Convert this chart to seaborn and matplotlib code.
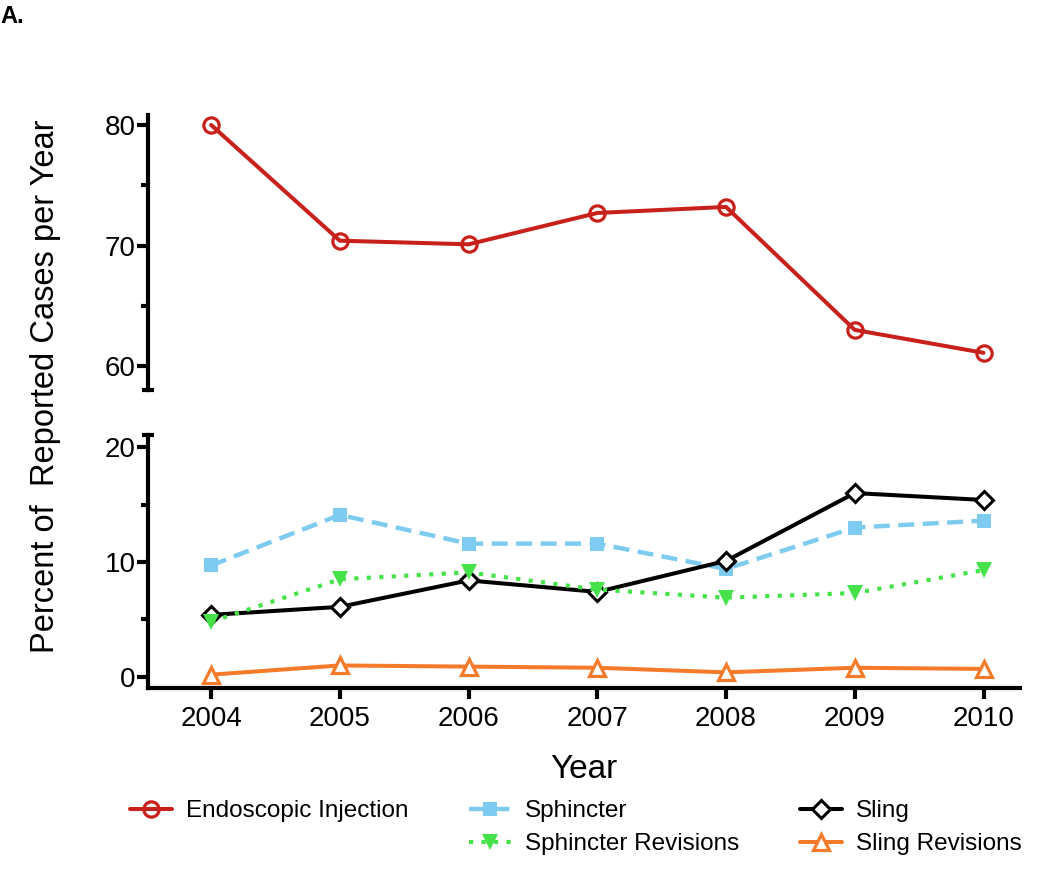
import matplotlib
matplotlib.use("Agg")
import matplotlib.pyplot as plt
from matplotlib.ticker import MultipleLocator
import seaborn as sns

years = [2004, 2005, 2006, 2007, 2008, 2009, 2010]
endoscopic = [80.0, 70.4, 70.1, 72.7, 73.2, 63.0, 61.1]
sphincter = [9.7, 14.1, 11.6, 11.6, 9.4, 13.0, 13.6]
sling = [5.4, 6.1, 8.4, 7.4, 10.1, 16.0, 15.4]
sphincter_rev = [4.8, 8.5, 9.1, 7.6, 6.9, 7.3, 9.3]
sling_rev = [0.2, 1.0, 0.9, 0.8, 0.4, 0.8, 0.7]

RED = "#c8201b"
BLUE = "#7ecbf0"
BLACK = "#000000"
GREEN = "#45e24a"
ORANGE = "#f57b2b"

sns.set_style("ticks")
plt.rcParams["font.family"] = ["Liberation Sans", "DejaVu Sans"]
plt.rcParams.update({
    "text.color": "black",
    "axes.labelcolor": "black",
    "axes.edgecolor": "black",
    "xtick.color": "black",
    "ytick.color": "black",
})

fig = plt.figure(figsize=(10.5, 8.69), dpi=100)
ax_top = fig.add_axes([0.141, 0.551, 0.83, 0.317])
ax_bot = fig.add_axes([0.141, 0.2083, 0.83, 0.2911])

LW = 2.9
SPINE = 3.0

sns.lineplot(x=years, y=endoscopic, ax=ax_top, color=RED, linewidth=LW,
             marker="o", markersize=11, markerfacecolor="none",
             markeredgecolor=RED, markeredgewidth=2.3,
             label="Endoscopic Injection")

sns.lineplot(x=years, y=sphincter, ax=ax_bot, color=BLUE, linewidth=3.2,
             linestyle=(0, (3.6, 1.9)), marker="s", markersize=10,
             markerfacecolor=BLUE, markeredgecolor=BLUE, markeredgewidth=0,
             label="Sphincter")
sns.lineplot(x=years, y=sling, ax=ax_bot, color=BLACK, linewidth=LW,
             marker="D", markersize=9, markerfacecolor="white",
             markeredgecolor=BLACK, markeredgewidth=2.2,
             label="Sling")
sns.lineplot(x=years, y=sphincter_rev, ax=ax_bot, color=GREEN, linewidth=3.0,
             linestyle=(0, (1.0, 2.0)), marker="v", markersize=11.5,
             markerfacecolor=GREEN, markeredgecolor=GREEN, markeredgewidth=0,
             label="Sphincter Revisions")
sns.lineplot(x=years, y=sling_rev, ax=ax_bot, color=ORANGE, linewidth=LW,
             marker="^", markersize=11, markerfacecolor="white",
             markeredgecolor=ORANGE, markeredgewidth=2.3,
             label="Sling Revisions")

for ax in (ax_top, ax_bot):
    ax.set_xlim(2003.51, 2010.28)
    ax.set_facecolor("none")
    ax.spines["right"].set_visible(False)
    ax.spines["top"].set_visible(False)
    ax.spines["left"].set_linewidth(SPINE)
    ax.spines["bottom"].set_linewidth(SPINE)
    ax.yaxis.set_minor_locator(MultipleLocator(5))
    ax.tick_params(axis="y", which="major", length=8, width=SPINE,
                   labelsize=20, pad=1)
    ax.tick_params(axis="y", which="minor", length=5, width=SPINE)
    ax.set_ylabel("")
    ax.set_xlabel("")
    if ax.get_legend() is not None:
        ax.get_legend().remove()

ax_top.set_ylim(58, 80.85)
ax_top.set_yticks([60, 70, 80])
ax_top.spines["bottom"].set_visible(False)
ax_top.tick_params(axis="x", which="both", bottom=False, labelbottom=False)

ax_bot.set_ylim(-0.96, 21.05)
ax_bot.set_yticks([0, 10, 20])
ax_bot.set_xticks(years)
ax_bot.set_xticklabels([str(y) for y in years])
ax_bot.tick_params(axis="x", which="major", length=8, width=SPINE,
                   labelsize=20, pad=5)
ax_bot.set_xlabel("Year", fontsize=24, labelpad=16)

# axis break caps
ax_top.plot([-0.007, 0.007], [0, 0], transform=ax_top.transAxes,
            color="k", lw=SPINE, clip_on=False, solid_capstyle="butt")
ax_bot.plot([-0.007, 0.007], [1, 1], transform=ax_bot.transAxes,
            color="k", lw=SPINE, clip_on=False, solid_capstyle="butt")

fig.text(0.043, 0.556, "Percent of  Reported Cases per Year", rotation=90,
         fontsize=23.5, ha="center", va="center")
fig.text(0.0, 0.994, "A.", fontsize=17, fontweight="bold", ha="left", va="top")

h_top, l_top = ax_top.get_legend_handles_labels()
h_bot, l_bot = ax_bot.get_legend_handles_labels()
lookup = dict(zip(l_top + l_bot, h_top + h_bot))
blank = plt.Line2D([], [], linestyle="none", marker=None)
handles = [lookup["Endoscopic Injection"], blank,
           lookup["Sphincter"], lookup["Sphincter Revisions"],
           lookup["Sling"], lookup["Sling Revisions"]]
labels = ["Endoscopic Injection", "",
          "Sphincter", "Sphincter Revisions",
          "Sling", "Sling Revisions"]
fig.legend(handles, labels, ncol=3, loc="upper left",
           bbox_to_anchor=(0.124, 0.079), frameon=False, fontsize=17.5,
           handlelength=1.7, handletextpad=0.6, columnspacing=2.5,
           labelspacing=0.45, borderpad=0, borderaxespad=0)

fig.savefig("out.png", dpi=100)
